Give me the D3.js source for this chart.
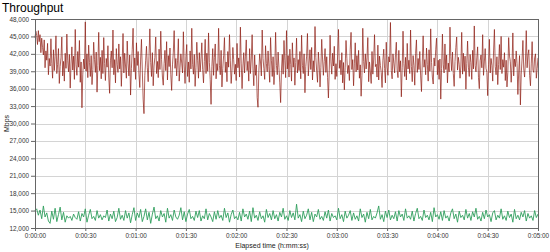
<!DOCTYPE html>
<html>
<head>
<meta charset="utf-8">
<script src="https://cdn.jsdelivr.net/npm/d3@7"></script>
<style>
    body { margin: 0; background: #fff; }
    svg { display: block; font-family: "Liberation Sans", Arial, sans-serif; }
</style>
</head>
<body>
<div id="chart"></div>
<script>
// seconds between two samples of each series
var stepHigh = 0.5;
var stepLow = 1;

// upper series (dark red) in Mbps, one sample every half second
var seriesHigh = [
    44800, 45900, 45200, 43600, 46000, 44100, 45300, 42200, 44700, 43100, 41800, 44400, 39600, 42500, 40900, 43800, 38400, 41200, 39900, 44600,
    40300, 37800, 42700, 39100, 41500, 45100, 38600, 40200, 42900, 36900, 39800, 41300, 44900, 38200, 40700, 37300, 42100, 39500, 45400, 40800,
    38900, 41900, 36100, 40400, 43200, 39200, 41600, 37600, 46200, 40100, 38300, 42400, 39700, 44300, 37100, 40600, 32700, 38500, 41100, 39400,
    47500, 39000, 42000, 37900, 43500, 40500, 38100, 41700, 36700, 39300, 44000, 41000, 38800, 42300, 35400, 40000, 45700, 39100, 41400, 37700,
    42600, 38600, 44800, 40300, 37400, 41200, 39700, 43400, 38000, 35200, 40800, 42500, 39600, 46100, 38400, 41000, 37000, 42900, 40200, 38800,
    43700, 39400, 41500, 36400, 40600, 45500, 38700, 42100, 39900, 37800, 44200, 40400, 38200, 41800, 34900, 39500, 42700, 46400, 38900, 41300,
    37600, 43900, 40000, 42400, 38500, 36200, 41100, 44500, 39200, 34200, 31700, 38300, 40900, 43300, 39600, 37200, 41600, 46300, 40500, 38100,
    42200, 36500, 39900, 41400, 44900, 38600, 40700, 37900, 42800, 39300, 45900, 41000, 38000, 36600, 40300, 42600, 39100, 44100, 37500, 41700,
    39800, 43000, 38400, 35700, 40100, 42300, 46000, 39500, 41200, 38200, 40800, 44600, 37300, 39700, 42000, 40400, 38700, 45800, 39900, 36900,
    41500, 43600, 38100, 40600, 37100, 42500, 39400, 46400, 40200, 38500, 41900, 36400, 39600, 44000, 40900, 37800, 42200, 38900, 41100, 43900,
    39300, 37000, 40700, 44500, 38600, 42100, 39000, 45600, 40500, 37600, 33300, 39800, 42900, 38300, 41400, 43700, 37700, 40300, 39100, 46400,
    40000, 38400, 42600, 36300, 39500, 41700, 44800, 38800, 40600, 37200, 42400, 39700, 45300, 40800, 36900, 39200, 43100, 41000, 38500, 40200,
    37400, 43800, 39600, 41300, 38000, 46600, 40400, 36000, 39900, 42200, 38700, 41600, 44400, 39100, 40700, 37300, 42900, 38600, 41100, 45300,
    39400, 36500, 41800, 38300, 40100, 34500, 32800, 39000, 42000, 40600, 38200, 46100, 41200, 39500, 37600, 43400, 40300, 38900, 42500, 39800,
    37100, 44800, 40900, 38100, 41500, 36700, 39300, 45700, 40000, 38400, 42300, 39600, 37000, 33600, 39200, 41900, 38500, 44300, 40800, 37900,
    46000, 39400, 41700, 38000, 42800, 40200, 37300, 43900, 39700, 41300, 36600, 40500, 44700, 38700, 41000, 39100, 42400, 37700, 45200, 40000,
    38600, 42000, 35300, 39800, 41600, 45500, 38200, 40400, 42700, 39300, 43100, 37500, 40800, 38900, 46700, 41400, 39000, 37100, 42300, 40100,
    36300, 39600, 44500, 41100, 38300, 40700, 42900, 38800, 41500, 37900, 34400, 39200, 45200, 40600, 38500, 42100, 39900, 43300, 37600, 40300,
    38100, 41800, 46200, 39500, 40900, 38400, 42200, 37000, 40500, 35800, 39700, 44300, 41200, 38600, 40000, 37400, 42700, 45700, 39300, 41000,
    36500, 40400, 43900, 38900, 41700, 39200, 42600, 37800, 40100, 34700, 38300, 46400, 40700, 38700, 42000, 39400, 41300, 44800, 37200, 40600,
    39000, 36900, 42400, 38500, 41100, 45300, 39800, 40200, 38000, 43500, 37500, 41600, 40000, 38800, 36200, 40900, 42800, 39500, 37000, 44000,
    39700, 38300, 41500, 40600, 47400, 39100, 37700, 42000, 40400, 38700, 41900, 44000, 39200, 37900, 42600, 38900, 40800, 34600, 39600, 45900,
    40300, 38100, 41400, 37500, 43800, 39400, 40900, 38600, 46100, 39800, 37200, 41700, 40000, 36600, 42100, 44400, 38800, 41200, 39300, 42400,
    38200, 35500, 40600, 45100, 39700, 41000, 38400, 43000, 40200, 37300, 42700, 39000, 46300, 40500, 38000, 36800, 41300, 39900, 42800, 44700,
    38400, 40900, 37600, 41100, 34200, 39500, 45400, 40100, 38700, 43700, 39300, 41800, 37000, 40400, 38900, 46600, 41500, 39100, 42300, 38600,
    36400, 40700, 43100, 44900, 39200, 41400, 40200, 37800, 39900, 45700, 38500, 42100, 39000, 41600, 35900, 40300, 44200, 39700, 38100, 41900,
    40500, 37600, 42600, 39400, 46800, 40000, 38900, 41300, 43200, 37900, 36000, 40800, 41800, 39600, 45300, 38300, 40600, 42900, 39500, 38800,
    34800, 40100, 44500, 38700, 41200, 40000, 37300, 42500, 46200, 39800, 38400, 41500, 36700, 40200, 43600, 39300, 45000, 38600, 41000, 39700,
    42200, 37400, 40900, 36300, 38800, 44800, 41600, 40700, 37100, 39900, 45600, 38200, 41100, 39800, 42500, 40300, 35000, 38900, 41700, 33200,
    38500, 41100, 44300, 39400, 38000, 40600, 46000, 39600, 41800, 42700, 38300, 36500, 40400, 44100, 39200, 38800, 41300, 42000, 37800, 39500,
    41300
];

// lower series (green) in Mbps, one sample every second
var seriesLow = [
    15000, 15300, 14200, 15100, 13600, 15800, 13900, 14600, 13200, 12800, 14900, 13500, 15400, 13100, 14300, 15600, 13400, 14700, 13000, 14100,
    13700, 14000, 13300, 14400, 13800, 13500, 14800, 13200, 14500, 13900, 15300, 13000, 14200, 15200, 13600, 14000, 13300, 15000, 13700, 14300,
    13400, 14100, 13800, 15100, 13200, 14400, 13600, 14900, 13100, 13800, 15400, 13500, 14200, 13300, 15000, 13700, 14600, 12900, 14300, 15500,
    13300, 14600, 13800, 15200, 13100, 14000, 15300, 13400, 14700, 12800, 14400, 15600, 13600, 14100, 13200, 15000, 13900, 14500, 13000, 15400,
    13700, 14300, 13300, 15100, 13900, 13500, 14200, 15500, 13400, 14800, 13100, 14400, 15200, 13600, 14000, 13300, 14900, 13800, 15000, 13200,
    14100, 13600, 15300, 13400, 14500, 13900, 13100, 14800, 13500, 15000, 13700, 14200, 13300, 15400, 13800, 14600, 13000, 14300, 15100, 13600,
    14000, 13400, 14700, 13200, 15300, 13900, 14400, 13500, 14900, 13100, 15500, 13700, 14200, 13300, 14800, 13600, 14100, 13000, 15200, 13800,
    14500, 13400, 15000, 13600, 14300, 13200, 14700, 13900, 15400, 13500, 14100, 13300, 15000, 13800, 14600, 13400, 16100, 13700, 14300, 13100,
    14900, 13600, 14200, 15300, 13400, 14700, 13100, 14400, 13900, 15200, 13500, 14000, 13300, 14800, 13700, 15100, 13200, 14500, 13800, 14100,
    13400, 15400, 13600, 14300, 13100, 14900, 13700, 14200, 15000, 13300, 14600, 13500, 14100, 13200, 15300, 13800, 14400, 13000, 14700, 13600,
    15200, 13400, 14000, 13700, 14600, 15800, 13500, 14300, 13100, 14900, 13800, 15100, 13400, 14200, 13600, 14800, 13200, 15000, 13900, 14400,
    13300, 15300, 13700, 14100, 13500, 14900, 13200, 14500, 15400, 13600, 14000, 13300, 15100, 13800, 14200, 13400, 14700, 13100, 15500, 13900,
    14300, 13500, 14800, 13300, 15000, 13700, 14100, 13200, 14600, 15300, 13600, 14400, 13000, 14900, 13800, 14200, 13400, 15200, 13700, 14500,
    13300, 14800, 13900, 15400, 13500, 14000, 13200, 14700, 13600, 15100, 13900, 14300, 13100, 14600, 15000, 13400, 14200, 13700, 15300, 13500,
    14100, 13300, 14900, 13800, 14400, 13000, 15200, 13600, 14200, 13400, 14700, 13900, 15000, 13200, 14500, 13700, 14100, 13300, 15000, 13800, 14400
];

// axis ticks
var yTicks = [12000, 15000, 18000, 21000, 24000, 27000, 30000, 33000, 36000, 39000, 42000, 45000, 48000];
var xTicks = [0, 30, 60, 90, 120, 150, 180, 210, 240, 270, 300];
var xTickLabels = ["0:00:00", "0:00:30", "0:01:00", "0:01:30", "0:02:00", "0:02:30",
    "0:03:00", "0:03:30", "0:04:00", "0:04:30", "0:05:00"];

var svgWidth = 550;
var svgHeight = 252;

var margin = { top: 19, right: 12, bottom: 24, left: 35 };
var w = svgWidth - margin.left - margin.right;
var h = svgHeight - margin.top - margin.bottom;

var svg = d3.select("#chart")
    .append("svg")
    .attr("width", svgWidth)
    .attr("height", svgHeight);

// title
svg.append("text")
    .attr("x", 2)
    .attr("y", 12)
    .attr("font-size", "12px")
    .attr("fill", "#000")
    .text("Throughput");

var chartGroup = svg.append("g")
    .attr("transform", `translate(${margin.left}, ${margin.top})`);

var xScale = d3.scaleLinear().domain([0, 300]).range([0, w]);
var yScale = d3.scaleLinear().domain([12000, 48000]).range([h, 0]);

// grid lines
chartGroup.append("g")
    .selectAll("line")
    .data(yTicks)
    .enter()
    .append("line")
    .attr("x1", 0)
    .attr("x2", w)
    .attr("y1", d => Math.round(yScale(d)) + 0.5)
    .attr("y2", d => Math.round(yScale(d)) + 0.5)
    .attr("stroke", "#d4d4d4");

chartGroup.append("g")
    .selectAll("line")
    .data(xTicks)
    .enter()
    .append("line")
    .attr("x1", d => Math.round(xScale(d)) + 0.5)
    .attr("x2", d => Math.round(xScale(d)) + 0.5)
    .attr("y1", 0)
    .attr("y2", h)
    .attr("stroke", "#d4d4d4");

// axes
var yAxis = d3.axisLeft(yScale)
    .tickValues(yTicks)
    .tickSize(4)
    .tickPadding(2)
    .tickFormat(d3.format(",d"));

var xAxis = d3.axisBottom(xScale)
    .tickValues(xTicks)
    .tickSize(3)
    .tickPadding(2)
    .tickFormat((d, i) => xTickLabels[i]);

var yAxisGroup = chartGroup.append("g")
    .call(yAxis);

var xAxisGroup = chartGroup.append("g")
    .attr("transform", `translate(0, ${h})`)
    .call(xAxis);

[yAxisGroup, xAxisGroup].forEach(function (g) {
    g.select(".domain").remove();
    g.selectAll("line").attr("stroke", "#666");
    g.selectAll("text")
        .attr("fill", "#333")
        .attr("font-size", "6.4px")
        .attr("font-family", "Liberation Sans, Arial, sans-serif");
});

// lines
var lineHigh = d3.line()
    .x((d, i) => xScale(i * stepHigh))
    .y(d => yScale(d));

var lineLow = d3.line()
    .x((d, i) => xScale(i * stepLow))
    .y(d => yScale(d));

chartGroup.append("path")
    .datum(seriesHigh)
    .attr("fill", "none")
    .attr("stroke", "#8e1c12")
    .attr("stroke-width", 0.7)
    .attr("d", lineHigh);

chartGroup.append("path")
    .datum(seriesLow)
    .attr("fill", "none")
    .attr("stroke", "#2f9e5c")
    .attr("stroke-width", 0.9)
    .attr("d", lineLow);

// plot frame
chartGroup.append("rect")
    .attr("x", 0.5)
    .attr("y", 0.5)
    .attr("width", Math.round(w))
    .attr("height", Math.round(h))
    .attr("fill", "none")
    .attr("stroke", "#666");

// axis labels
svg.append("text")
    .attr("x", 272)
    .attr("y", 248)
    .attr("text-anchor", "middle")
    .attr("font-size", "7px")
    .attr("fill", "#222")
    .text("Elapsed time (h:mm:ss)");

svg.append("text")
    .attr("transform", `translate(9, ${margin.top + h / 2}) rotate(-90)`)
    .attr("text-anchor", "middle")
    .attr("font-size", "7px")
    .attr("fill", "#222")
    .text("Mbps");
</script>
</body>
</html>
